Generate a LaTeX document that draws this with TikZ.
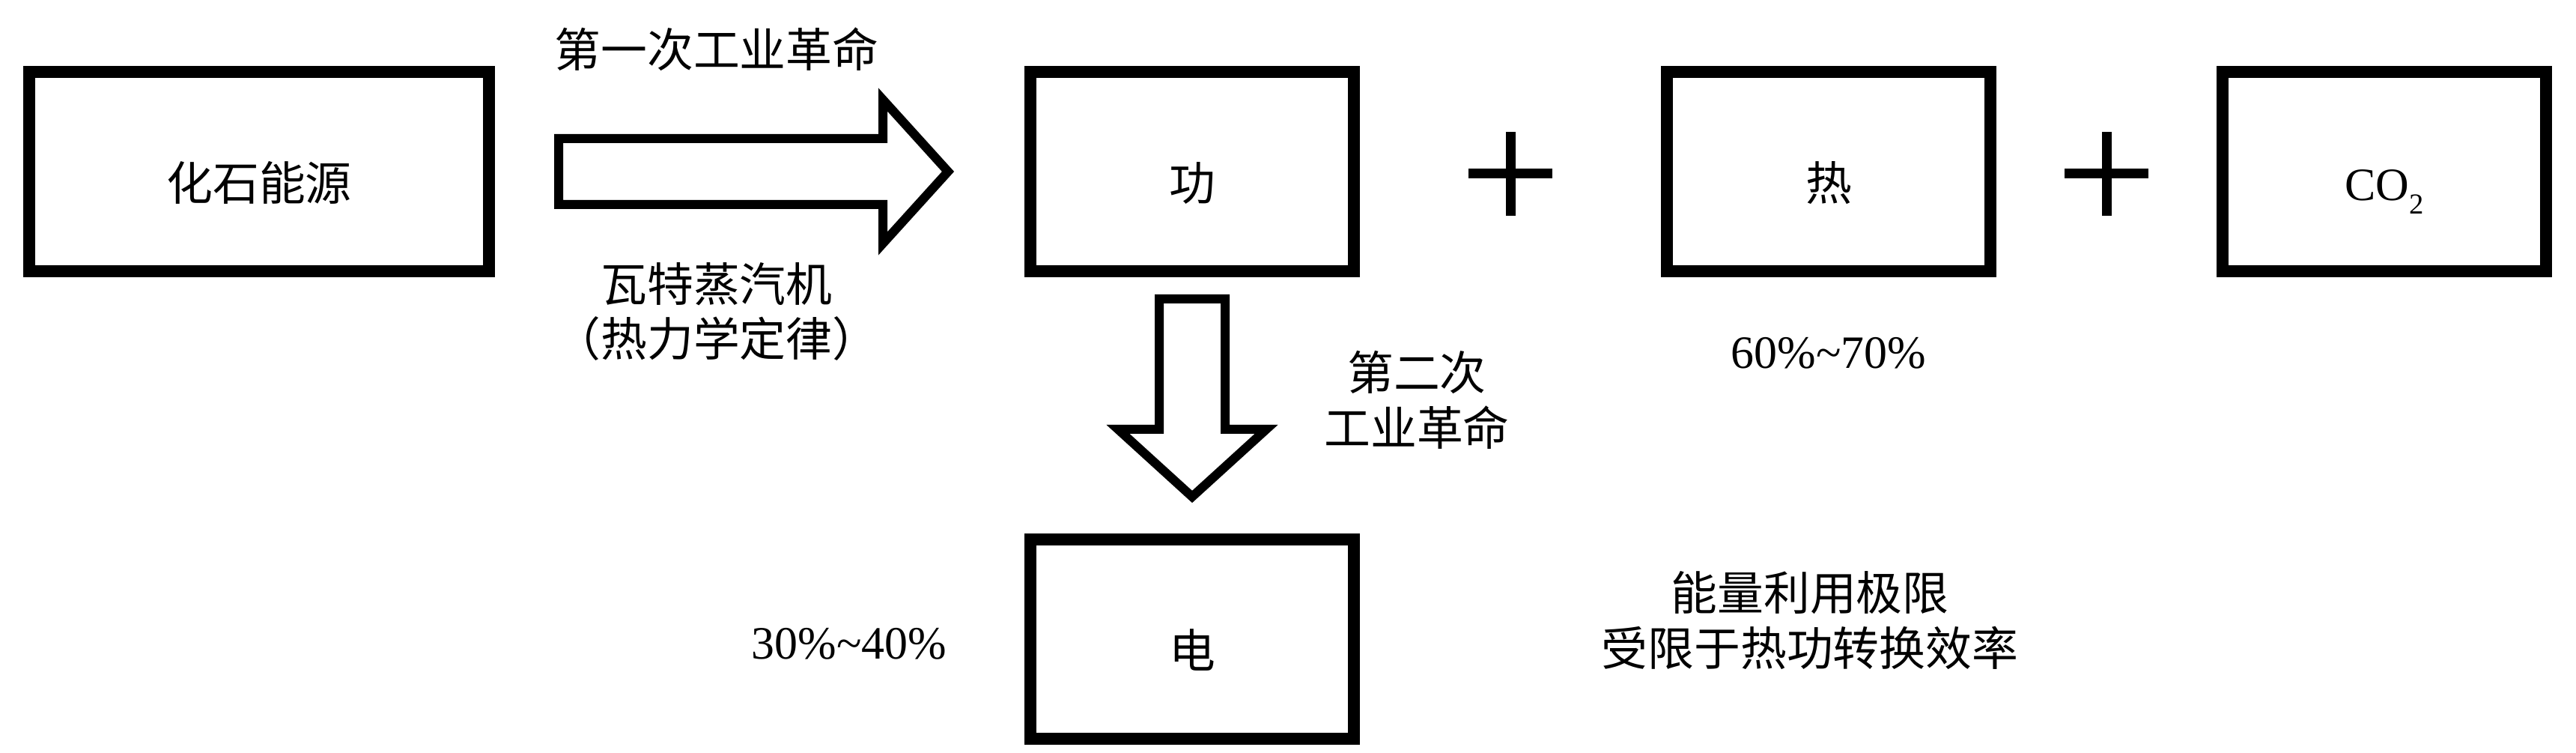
\documentclass[tikz,border=0pt]{standalone}
\usepackage{fontspec}
\setmainfont{Liberation Serif}
\newfontfamily\cjk{Noto Sans CJK SC}
\usetikzlibrary{calc, positioning}
\newcommand\txtsize{\fontsize{17.6pt}{21pt}\selectfont}

\begin{document}
\begin{tikzpicture}[
  box/.style={draw, line width=0.16cm, inner sep=0pt, minimum height=2.66cm,
    text height=0.87cm, text depth=0.1cm, font={\cjk\txtsize}},
  smallbox/.style={box, minimum width=4.32cm},
  hollow/.style={draw, line width=0.12cm, line join=miter},
  plus/.style={line width=0.13cm},
  note/.style={font={\cjk\txtsize}, align=center, inner sep=0pt},
  pct/.style={font={\rmfamily\txtsize}, inner sep=0pt}
]
\useasboundingbox (0,0) rectangle (34.4,10.05);

\node[box, minimum width=6.14cm] (fossil) at (3.46,7.76) {化石能源};
\node[smallbox, right=7.07cm of fossil] (work) {功};
\node[smallbox, right=4.02cm of work] (heat) {热};
\node[smallbox, right=2.94cm of heat, font={\rmfamily\txtsize}] (co2)
  {CO\raisebox{-5pt}{\fontsize{11pt}{11pt}\selectfont 2}};
\node[smallbox, below=3.42cm of work] (elec) {电};

\draw[hollow] ($(fossil.east)+(0.85,0.44)$) -- ++(4.33,0) -- ++(0,0.52)
  -- ++(0.87,-0.96) -- ++(-0.87,-0.96) -- ++(0,0.52) -- ++(-4.33,0) -- cycle;
\draw[hollow] ($(work.south)+(-0.44,-0.29)$) -- ++(0.88,0) -- ++(0,-1.74)
  -- ++(0.55,0) -- ++(-0.99,-0.90) -- ++(-0.99,0.90) -- ++(0.55,0) -- cycle;

\coordinate (P1) at ($(work.east)!0.5!(heat.west)+(0,-0.03)$);
\coordinate (P2) at ($(heat.east)!0.5!(co2.west)+(0,-0.03)$);
\foreach \P in {P1,P2}{
  \draw[plus] (\P) +(-0.56,0) -- +(0.56,0) +(0,-0.56) -- +(0,0.56);
}

\node[note] (rev1) at (9.57,9.39) {第一次工业革命};
\node[note] (watt) at (9.57,5.89) {瓦特蒸汽机\\（热力学定律）};
\node[note] (rev2) at (18.92,4.71) {第二次\\工业革命};
\node[pct] (heatpct) at (24.42,5.34) {60\%\textasciitilde70\%};
\node[pct] (elecpct) at (11.34,1.46) {30\%\textasciitilde40\%};
\node[note] (limit) at (24.17,1.77) {能量利用极限\\受限于热功转换效率};
\end{tikzpicture}
\end{document}
